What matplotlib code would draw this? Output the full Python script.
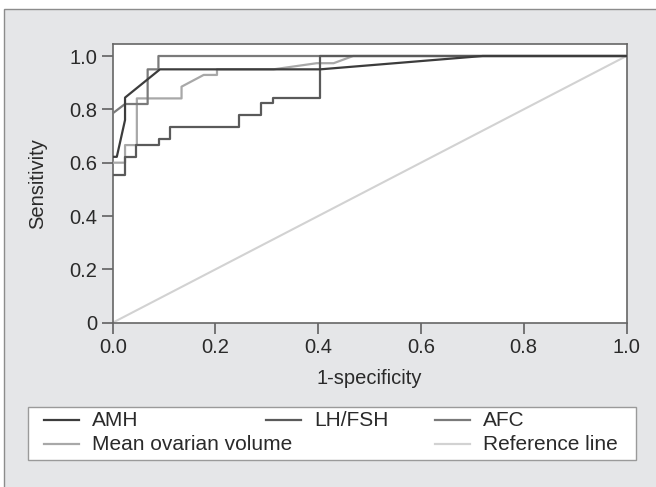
import matplotlib
matplotlib.use("Agg")
import matplotlib.pyplot as plt
from matplotlib.patches import Rectangle
from matplotlib.lines import Line2D

plt.rcParams['font.family'] = ['Liberation Sans', 'DejaVu Sans']

# ROC curves (1-specificity, sensitivity)
amh_x = [0, 0.008, 0.024, 0.024, 0.092, 0.404, 0.72, 1.0]
amh_y = [0.622, 0.622, 0.76, 0.844, 0.95, 0.95, 1.0, 1.0]

lhfsh_x = [0, 0.024, 0.024, 0.045, 0.045, 0.090, 0.090, 0.112, 0.112, 0.245,
           0.245, 0.289, 0.289, 0.312, 0.312, 0.403, 0.403, 1.0]
lhfsh_y = [0.553, 0.553, 0.622, 0.622, 0.666, 0.666, 0.688, 0.688, 0.733, 0.733,
           0.778, 0.778, 0.822, 0.822, 0.844, 0.844, 1.0, 1.0]

afc_x = [0, 0.024, 0.068, 0.068, 0.089, 0.089, 1.0]
afc_y = [0.785, 0.82, 0.82, 0.95, 0.95, 1.0, 1.0]

mov_x = [0, 0.024, 0.024, 0.047, 0.047, 0.134, 0.134, 0.177, 0.203, 0.203,
         0.313, 0.397, 0.43, 0.468, 1.0]
mov_y = [0.6, 0.6, 0.666, 0.666, 0.841, 0.841, 0.885, 0.929, 0.929, 0.95,
         0.95, 0.973, 0.973, 1.0, 1.0]

ref_x = [0, 1]
ref_y = [0, 1]

series = [
    ('AMH', amh_x, amh_y, '#3c3c3c'),
    ('LH/FSH', lhfsh_x, lhfsh_y, '#5a5a5a'),
    ('AFC', afc_x, afc_y, '#7a7a7a'),
    ('Mean ovarian volume', mov_x, mov_y, '#a8a8a8'),
    ('Reference line', ref_x, ref_y, '#d2d2d2'),
]

W, H = 656, 487
FS = 14.5
TXT = '#2a2a2a'
fig = plt.figure(figsize=(W / 100, H / 100), dpi=100)
fig.patch.set_facecolor('white')

# grey panel with a border (cropped at the right and bottom)
fig.add_artist(Rectangle((4 / W, -0.1), 1.2, 1.1 - 9 / H, transform=fig.transFigure,
                         facecolor='#e5e6e8', edgecolor='#8c8c8c', lw=1.0, zorder=0))

ax = fig.add_axes([112.7 / W, 1 - 322.7 / H, (626.5 - 112.7) / W, (322.7 - 44) / H])
ax.set_facecolor('white')

# reference line first, then the curves on top
ax.plot(ref_x, ref_y, color='#d2d2d2', lw=1.5, zorder=2)
for name, xs, ys, col in reversed(series[:4]):
    ax.plot(xs, ys, color=col, lw=1.6, zorder=3)

ax.set_xlim(0, 1.0)
ax.set_ylim(0, 1.045)
ax.set_xticks([0, 0.2, 0.4, 0.6, 0.8, 1.0])
ax.set_xticklabels(['0.0', '0.2', '0.4', '0.6', '0.8', '1.0'])
ax.set_yticks([0, 0.2, 0.4, 0.6, 0.8, 1.0])
ax.set_yticklabels(['0', '0.2', '0.4', '0.6', '0.8', '1.0'])
ax.tick_params(direction='out', length=8, width=1.1, color='#555555',
               labelsize=FS, labelcolor=TXT, pad=3)
for s in ax.spines.values():
    s.set_color('#666666')
    s.set_linewidth(1.2)

ax.set_xlabel('1-specificity', fontsize=FS, color=TXT, va='center')
ax.xaxis.set_label_coords(0.5, (322.7 - 379) / (322.7 - 44))
ax.set_ylabel('Sensitivity', fontsize=FS, color=TXT, va='center')
ax.yaxis.set_label_coords((38 - 112.7) / (626.5 - 112.7), 0.5)

# legend box drawn by hand (columns overlap in the original)
fig.add_artist(Rectangle((28 / W, 1 - 460 / H), (636 - 28) / W, (460 - 407) / H,
                         transform=fig.transFigure, facecolor='white',
                         edgecolor='#9a9a9a', lw=1.0, zorder=1))
slots = [(44, 420), (266, 420), (435, 420), (44, 444), (435, 444)]
for (name, xs, ys, col), (lx, ly) in zip(series, slots):
    fig.add_artist(Line2D([lx / W, (lx + 35) / W], [1 - ly / H, 1 - ly / H],
                          transform=fig.transFigure, color=col, lw=1.6, zorder=2))
    fig.text((lx + 48) / W, 1 - ly / H, name, fontsize=15, color=TXT,
             va='center', ha='left', zorder=3)

fig.savefig('out.png', dpi=100, facecolor=fig.get_facecolor())
